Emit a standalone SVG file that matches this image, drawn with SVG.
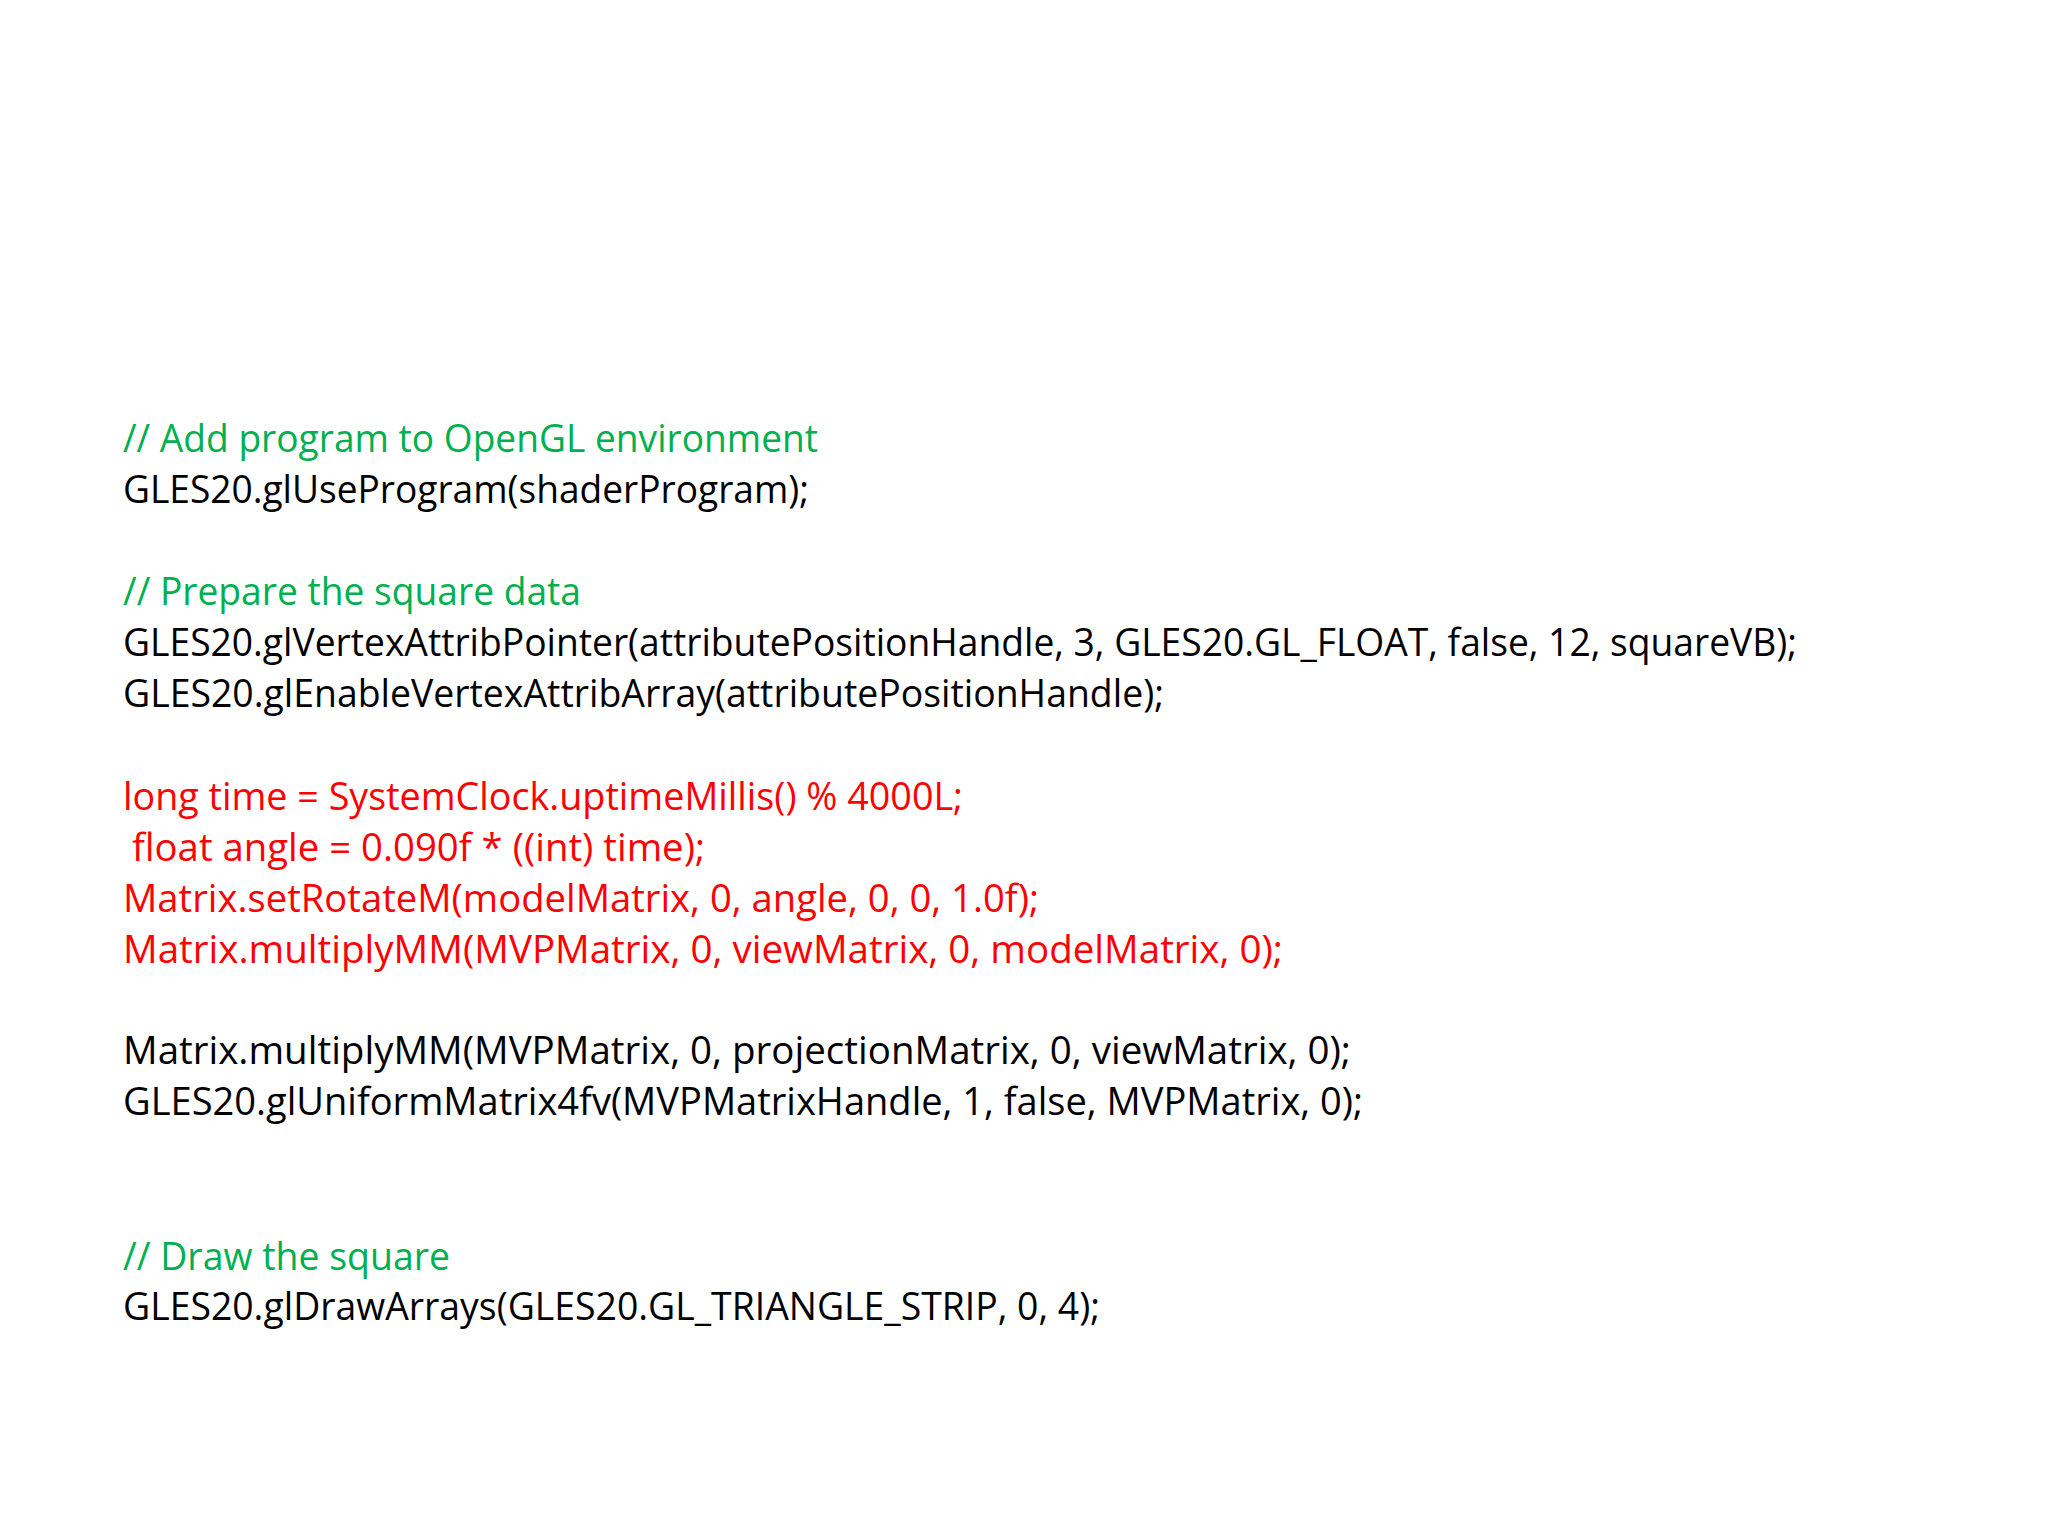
<svg xmlns="http://www.w3.org/2000/svg" width="2048" height="1536" viewBox="0 0 2048 1536">
<style>
text{font-family:"Open Sans","Liberation Sans",sans-serif;font-size:38px;fill:#000}
.g{fill:#00B050}.r{fill:#FF0000}
</style>
<rect width="2048" height="1536" fill="#fff"/>
<g id="code">
<text class="g" x="123" y="452" textLength="695" lengthAdjust="spacingAndGlyphs">// Add program to OpenGL environment</text>
<text x="123" y="503" textLength="686" lengthAdjust="spacingAndGlyphs">GLES20.glUseProgram(shaderProgram);</text>
<text class="g" x="123" y="605" textLength="458" lengthAdjust="spacingAndGlyphs">// Prepare the square data</text>
<text x="123" y="656" textLength="1674" lengthAdjust="spacingAndGlyphs">GLES20.glVertexAttribPointer(attributePositionHandle, 3, GLES20.GL_FLOAT, false, 12, squareVB);</text>
<text x="123" y="707" textLength="1041" lengthAdjust="spacingAndGlyphs">GLES20.glEnableVertexAttribArray(attributePositionHandle);</text>
<text class="r" x="123" y="810" textLength="840" lengthAdjust="spacingAndGlyphs">long time = SystemClock.uptimeMillis() % 4000L;</text>
<text class="r" x="132" y="861" textLength="573" lengthAdjust="spacingAndGlyphs">float angle = 0.090f * ((int) time);</text>
<text class="r" x="123" y="912" textLength="916" lengthAdjust="spacingAndGlyphs">Matrix.setRotateM(modelMatrix, 0, angle, 0, 0, 1.0f);</text>
<text class="r" x="123" y="963" textLength="1160" lengthAdjust="spacingAndGlyphs">Matrix.multiplyMM(MVPMatrix, 0, viewMatrix, 0, modelMatrix, 0);</text>
<text x="123" y="1064" textLength="1228" lengthAdjust="spacingAndGlyphs">Matrix.multiplyMM(MVPMatrix, 0, projectionMatrix, 0, viewMatrix, 0);</text>
<text x="123" y="1115" textLength="1240" lengthAdjust="spacingAndGlyphs">GLES20.glUniformMatrix4fv(MVPMatrixHandle, 1, false, MVPMatrix, 0);</text>
<text class="g" x="123" y="1270" textLength="327" lengthAdjust="spacingAndGlyphs">// Draw the square</text>
<text x="123" y="1320" textLength="977" lengthAdjust="spacingAndGlyphs">GLES20.glDrawArrays(GLES20.GL_TRIANGLE_STRIP, 0, 4);</text>
</g>
</svg>
